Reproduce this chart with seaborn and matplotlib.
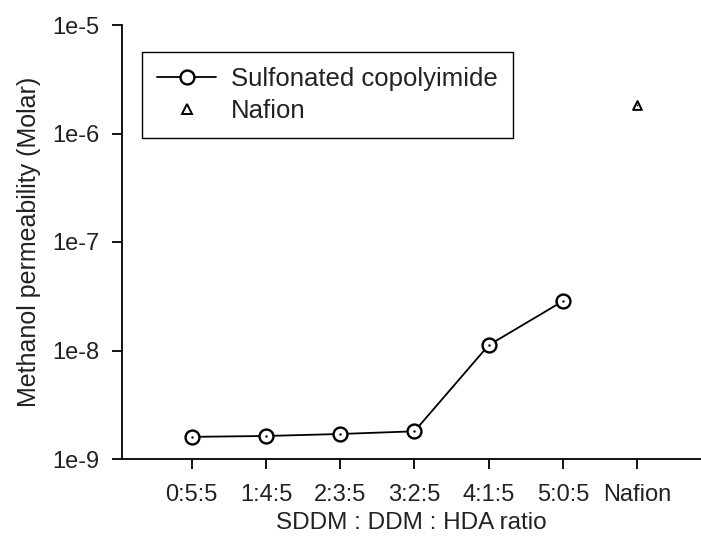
import matplotlib
matplotlib.use("Agg")
import matplotlib.pyplot as plt
import seaborn as sns
import pandas as pd
from matplotlib.lines import Line2D
from matplotlib.ticker import FixedLocator, FuncFormatter, NullLocator

ratios = ["0:5:5", "1:4:5", "2:3:5", "3:2:5", "4:1:5", "5:0:5"]
copoly_values = [1.60e-9, 1.63e-9, 1.70e-9, 1.80e-9, 1.12e-8, 2.85e-8]
nafion_label = ["Nafion"]
nafion_values = [1.83e-6]
ytick_values = [1e-9, 1e-8, 1e-7, 1e-6, 1e-5]
ytick_labels = ["1e-9", "1e-8", "1e-7", "1e-6", "1e-5"]

sns.set_style("ticks")
plt.rcParams["font.family"] = ["Liberation Sans", "DejaVu Sans"]

fig = plt.figure(figsize=(7.01, 5.44), dpi=100)
ax = fig.add_axes([122/701, 1-459/544, 579/701, 434/544])

df = pd.DataFrame({"ratio": ratios, "perm": copoly_values})
dfn = pd.DataFrame({"ratio": nafion_label, "perm": nafion_values})

sns.lineplot(data=df, x="ratio", y="perm", ax=ax, color="black", lw=1.3,
             marker="o", markersize=10, markerfacecolor="white",
             markeredgecolor="black", markeredgewidth=1.7, sort=False)
sns.scatterplot(data=df, x="ratio", y="perm", ax=ax, marker=".", s=12,
                color="black", linewidth=0, zorder=5)
sns.scatterplot(data=dfn, x="ratio", y="perm", ax=ax, marker="^", s=40,
                facecolor="white", edgecolor="black", linewidth=1.4, zorder=5)
sns.scatterplot(data=dfn, x="ratio", y="perm", ax=ax, marker=".", s=6,
                color="black", linewidth=0, zorder=6)

ax.set_yscale("log")
ax.set_ylim(1e-9, 1e-5)
ax.set_xlim(-0.94, 6.86)
ax.yaxis.set_major_locator(FixedLocator(ytick_values))
ax.yaxis.set_major_formatter(FuncFormatter(lambda v, p: ytick_labels[ytick_values.index(v)] if v in ytick_values else ""))
ax.yaxis.set_minor_locator(NullLocator())

for s in ["top", "right"]:
    ax.spines[s].set_visible(False)
for s in ["left", "bottom"]:
    ax.spines[s].set_linewidth(1.3)
    ax.spines[s].set_color("black")

ax.tick_params(axis="both", direction="out", length=7, width=1.3, color="black",
               labelsize=17, labelcolor="#222222")
ax.tick_params(axis="y", pad=9)
ax.tick_params(axis="x", pad=11)

ax.set_xlabel("SDDM : DDM : HDA ratio", fontsize=17.5, color="#222222", labelpad=4)
ax.set_ylabel("Methanol permeability (Molar)", fontsize=18, color="#222222", labelpad=8)

handles = [
    Line2D([], [], color="black", lw=1.3, marker="o", markersize=10,
           markerfacecolor="white", markeredgecolor="black", markeredgewidth=1.7),
    Line2D([], [], color="none", marker="^", markersize=7,
           markerfacecolor="white", markeredgecolor="black", markeredgewidth=1.4),
]
leg = ax.legend(handles, ["Sulfonated copolyimide", "Nafion"],
                loc="upper left", bbox_to_anchor=(0.0345, 0.938),
                borderaxespad=0, fontsize=18.5, frameon=True, fancybox=False,
                framealpha=1, edgecolor="black", handlelength=2.3,
                handletextpad=0.55, labelspacing=0.3, borderpad=0.6)
leg.get_frame().set_linewidth(1.0)
for t in leg.get_texts():
    t.set_color("#222222")

fig.savefig("out.png", dpi=100)
